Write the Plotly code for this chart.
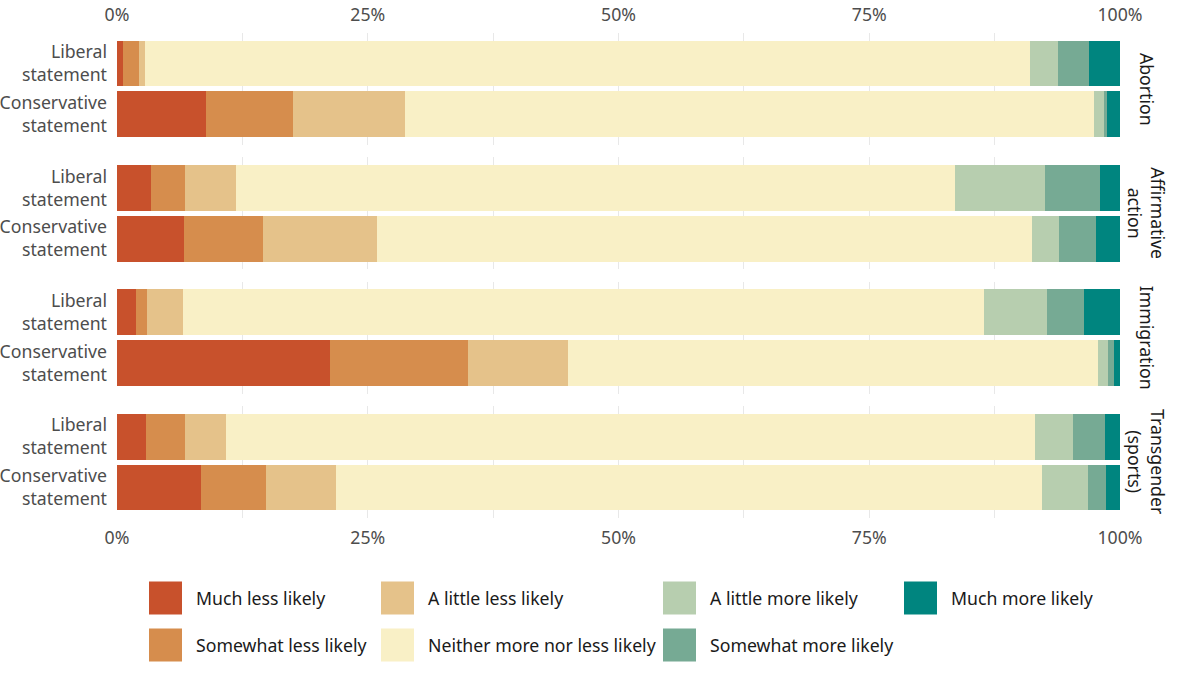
import plotly.graph_objects as go
from plotly.subplots import make_subplots

# ---------------- data ----------------
categories = ["Much less likely", "Somewhat less likely", "A little less likely",
              "Neither more nor less likely", "A little more likely",
              "Somewhat more likely", "Much more likely"]
colors = ["#C8512C", "#D68D4D", "#E5C28A", "#F9F0C6", "#B7CEAF", "#76AA94", "#00857F"]

issues = ["Abortion", "Affirmative<br>action", "Immigration", "Transgender<br>(sports)"]
statements = ["Liberal<br>statement", "Conservative<br>statement"]

abortion_liberal = [0.6, 1.6, 0.6, 88.2, 2.8, 3.1, 3.1]
abortion_conservative = [8.9, 8.6, 11.2, 68.7, 1.0, 0.3, 1.3]
affirmative_liberal = [3.4, 3.4, 5.1, 71.6, 9.0, 5.5, 2.0]
affirmative_conservative = [6.7, 7.9, 11.3, 65.3, 2.7, 3.7, 2.4]
immigration_liberal = [1.9, 1.1, 3.6, 79.8, 6.3, 3.7, 3.6]
immigration_conservative = [21.2, 13.8, 10.0, 52.8, 1.0, 0.6, 0.6]
transgender_liberal = [2.9, 3.9, 4.1, 80.6, 3.8, 3.2, 1.5]
transgender_conservative = [8.4, 6.5, 6.9, 70.4, 4.6, 1.8, 1.4]

issue_values = [
    (abortion_liberal, abortion_conservative),
    (affirmative_liberal, affirmative_conservative),
    (immigration_liberal, immigration_conservative),
    (transgender_liberal, transgender_conservative),
]

# ---------------- layout constants ----------------
W, H = 1200, 675
ML, MR, MT, MB = 117, 80, 33, 157
PW, PH = W - ML - MR, H - MT - MB
FONT = "Noto Sans"
FS = 17.7
TICK_COLOR = "#4D4D4D"
GRID = "#E8E8E8"

fig = make_subplots(rows=4, cols=1, shared_xaxes=False, vertical_spacing=12.5 / PH)

for r, (lib, con) in enumerate(issue_values, start=1):
    for ci, cat in enumerate(categories):
        fig.add_trace(
            go.Bar(
                x=[lib[ci], con[ci]],
                y=statements,
                orientation="h",
                name=cat,
                marker=dict(color=colors[ci], line=dict(width=0)),
                showlegend=False,
                hovertemplate="%{y}: %{x:.1f}%<extra>" + cat + "</extra>",
            ),
            row=r, col=1,
        )
    fig.update_yaxes(
        type="category", categoryorder="array", categoryarray=statements,
        range=[1.6, -0.6], showgrid=False, zeroline=False, showline=False,
        ticks="", ticklabelstandoff=9, automargin=False,
        tickfont=dict(family=FONT, size=FS, color=TICK_COLOR),
        row=r, col=1,
    )
    fig.update_xaxes(
        range=[0, 100], tickmode="linear", tick0=0, dtick=25, ticksuffix="%",
        showgrid=True, gridcolor=GRID, gridwidth=1.3,
        minor=dict(dtick=12.5, tick0=0, showgrid=True, gridcolor=GRID, gridwidth=0.9),
        zeroline=False, showline=False, ticks="", automargin=False,
        ticklabelstandoff=7,
        tickfont=dict(family=FONT, size=FS, color=TICK_COLOR),
        showticklabels=(r in (1, 4)), side=("top" if r == 1 else "bottom"),
        row=r, col=1,
    )
    yref = "y domain" if r == 1 else f"y{r} domain"
    fig.add_annotation(
        text=issues[r - 1], xref="paper", yref=yref, x=1, y=0.5,
        xanchor="center", yanchor="middle", xshift=27, textangle=90,
        showarrow=False, font=dict(family=FONT, size=FS, color="#1A1A1A"),
    )

# ---------------- manual legend (large swatches, column-major) ----------------
col_left_px = [149, 381, 663, 904]
row_center_px = [598, 645]
sw = 33

def px_x(px):
    return (px - ML) / PW

def px_y(py):
    return (H - MB - py) / PH

for i, cat in enumerate(categories):
    c, rr = divmod(i, 2)
    x0 = col_left_px[c]
    yc = row_center_px[rr]
    fig.add_shape(
        type="rect", xref="paper", yref="paper",
        x0=px_x(x0), x1=px_x(x0 + sw), y0=px_y(yc + sw / 2), y1=px_y(yc - sw / 2),
        fillcolor=colors[i], line=dict(width=0), layer="above",
    )
    fig.add_annotation(
        text=cat, xref="paper", yref="paper", x=px_x(x0 + sw + 12), y=px_y(yc),
        xanchor="left", yanchor="middle", showarrow=False,
        font=dict(family=FONT, size=FS, color="#1A1A1A"),
    )

fig.update_layout(
    width=W, height=H,
    margin=dict(l=ML, r=MR, t=MT, b=MB, autoexpand=False),
    barmode="stack", bargap=0.1,
    paper_bgcolor="white", plot_bgcolor="white",
    font=dict(family=FONT, size=FS, color=TICK_COLOR),
    showlegend=False,
)

# remove the browser's default 8px body margin so the figure fills the window
fig.write_html("out.html", config={"displayModeBar": False},
               post_script="document.body.style.margin='0';")
